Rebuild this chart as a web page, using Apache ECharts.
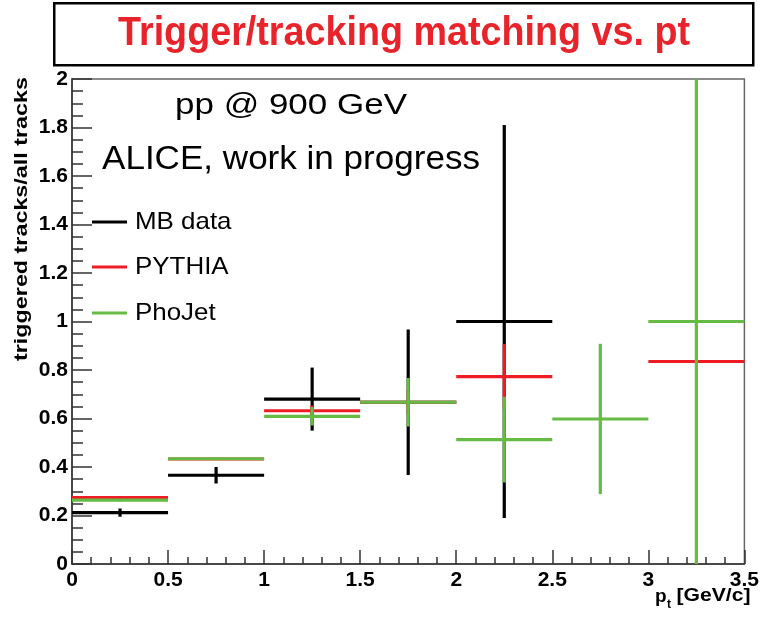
<!DOCTYPE html>
<html>
<head>
<meta charset="utf-8">
<script src="https://cdn.jsdelivr.net/npm/echarts@6/dist/echarts.min.js"></script>
<style>
html,body{margin:0;padding:0;background:#fff;}
#chart{width:762px;height:617px;}
</style>
</head>
<body>
<div id="chart"></div>
<script>
// ---- data ----
const binCenters   = [0.25, 0.75, 1.25, 1.75, 2.25, 2.75, 3.25];
const binHalfWidth = 0.25;
const mbValues     = [0.212, 0.366, 0.680, 0.667, 1.000, null, null];
const mbErrors     = [0.017, 0.034, 0.130, 0.300, 0.810, null, null];
const pythiaValues = [0.274, 0.433, 0.632, 0.667, 0.773, null, 0.835];
const pythiaErrors = [0.003, 0.004, 0.022, 0.050, 0.134, null, 0.000];
const phojetValues = [0.263, 0.434, 0.609, 0.667, 0.513, 0.598, 1.000];
const phojetErrors = [0.005, 0.006, 0.038, 0.100, 0.177, 0.310, 1.000];
const seriesNames  = ['MB data', 'PYTHIA', 'PhoJet'];
const titleText    = 'Trigger/tracking matching vs. pt';
const infoLines    = ['pp @ 900 GeV', 'ALICE, work in progress'];
const yAxisTitle   = 'triggered tracks/all tracks';

const COLORS = ['#000000', '#ee1c25', '#66bb44'];
const FONT = '"Liberation Sans", Arial, sans-serif';

const mctx = document.createElement('canvas').getContext('2d');
function fit(text, weight, size, target) {
  mctx.font = weight + ' ' + size + 'px ' + FONT;
  return target / mctx.measureText(text).width;
}

function buildData(vals, errs) {
  const out = [];
  for (let i = 0; i < binCenters.length; i++) {
    if (vals[i] == null) continue;
    out.push([binCenters[i], vals[i], errs[i], binHalfWidth]);
  }
  return out;
}

function makeRender(color) {
  return function (params, api) {
    const x = api.value(0), y = api.value(1), e = api.value(2), hw = api.value(3);
    const cs = params.coordSys;
    const l = api.coord([x - hw, y]);
    const r = api.coord([x + hw, y]);
    const t = api.coord([x, y + e]);
    const b = api.coord([x, y - e]);
    const top = Math.max(t[1], cs.y);
    const bot = Math.min(b[1], cs.y + cs.height);
    const style = { stroke: color, lineWidth: 3.2 };
    const children = [
      { type: 'line', shape: { x1: l[0], y1: l[1], x2: r[0], y2: r[1] }, style: style }
    ];
    if (e > 0) {
      children.push({ type: 'line', shape: { x1: t[0], y1: top, x2: b[0], y2: bot }, style: style });
    }
    return { type: 'group', children: children };
  };
}

const allData = [
  buildData(mbValues, mbErrors),
  buildData(pythiaValues, pythiaErrors),
  buildData(phojetValues, phojetErrors)
];

const series = allData.map((d, i) => ({
  type: 'custom',
  name: seriesNames[i],
  data: d,
  encode: { x: 0, y: 1 },
  renderItem: makeRender(COLORS[i]),
  z: 2 + i,
  silent: true
}));

// graphic annotations
const graphics = [];
graphics.push({
  type: 'rect', left: 53, top: 2, shape: { x: 0, y: 0, width: 699, height: 62 },
  style: { fill: '#fff', stroke: '#000', lineWidth: 2.5 }, z: 10
});
graphics.push({
  type: 'text', x: 404, y: 34, z: 11,
  scaleX: fit(titleText, 'bold', 41, 572),
  style: { text: titleText, fill: '#e8232a', font: 'bold 41px ' + FONT, align: 'center', verticalAlign: 'middle' }
});
graphics.push({
  type: 'text', x: 291, y: 106, z: 11,
  scaleX: fit(infoLines[0], 'normal', 30, 232),
  style: { text: infoLines[0], fill: '#000', font: '30px ' + FONT, align: 'center', verticalAlign: 'middle' }
});
graphics.push({
  type: 'text', x: 291, y: 160, z: 11,
  scaleX: fit(infoLines[1], 'normal', 34, 378),
  style: { text: infoLines[1], fill: '#000', font: '34px ' + FONT, align: 'center', verticalAlign: 'middle' }
});
const legendY = [222, 267, 313];
seriesNames.forEach((n, i) => {
  graphics.push({
    type: 'line', z: 11,
    shape: { x1: 92, y1: legendY[i], x2: 127, y2: legendY[i] },
    style: { stroke: COLORS[i], lineWidth: 3.2 }
  });
  graphics.push({
    type: 'text', x: 135, y: legendY[i], z: 11,
    scaleX: 1.08,
    style: { text: n, fill: '#000', font: '24px ' + FONT, align: 'left', verticalAlign: 'middle' }
  });
});
graphics.push({
  type: 'text', x: 22, y: 219, z: 11, rotation: Math.PI / 2,
  scaleX: fit(yAxisTitle, 'bold', 18, 284),
  style: { text: yAxisTitle, fill: '#000', font: 'bold 18px ' + FONT, align: 'center', verticalAlign: 'middle' }
});
// x-axis title p_t [GeV/c]
graphics.push({
  type: 'text', x: 655, y: 597, z: 11,
  style: { text: 'p', fill: '#000', font: 'bold 19px ' + FONT, align: 'left', verticalAlign: 'middle' }
});
graphics.push({
  type: 'text', x: 667, y: 605, z: 11,
  style: { text: 't', fill: '#000', font: 'bold 12px ' + FONT, align: 'left', verticalAlign: 'middle' }
});
graphics.push({
  type: 'text', x: 676.5, y: 596, z: 11,
  scaleX: fit('[GeV/c]', 'bold', 19, 74),
  style: { text: '[GeV/c]', fill: '#000', font: 'bold 19px ' + FONT, align: 'left', verticalAlign: 'middle' }
});

const axisCommon = {
  axisLine: { show: true, lineStyle: { color: '#333', width: 1.5 } },
  splitLine: { show: false },
  axisLabel: { color: '#000', fontFamily: FONT, fontWeight: 'bold', fontSize: 21 }
};

const option = {
  animation: false,
  backgroundColor: '#fff',
  grid: { left: 72, right: 15, top: 79, bottom: 53, show: true, borderColor: '#666', borderWidth: 1.5, backgroundColor: 'transparent' },
  xAxis: Object.assign({}, axisCommon, {
    type: 'value', min: 0, max: 3.5, interval: 0.5,
    axisTick: { show: true, inside: true, length: 14, lineStyle: { color: '#333', width: 1.5 } },
    minorTick: { show: true, splitNumber: 5, length: 7, lineStyle: { color: '#333', width: 1.5 } },
    axisLabel: Object.assign({}, axisCommon.axisLabel, { margin: 6 })
  }),
  yAxis: Object.assign({}, axisCommon, {
    type: 'value', min: 0, max: 2, interval: 0.2,
    axisTick: { show: true, inside: true, length: 20, lineStyle: { color: '#333', width: 1.5 } },
    minorTick: { show: true, splitNumber: 4, length: 11, lineStyle: { color: '#333', width: 1.5 } },
    axisLabel: Object.assign({}, axisCommon.axisLabel, { margin: 4 })
  }),
  series: series,
  graphic: graphics
};

const chart = echarts.init(document.getElementById('chart'), null, { renderer: 'canvas' });
chart.setOption(option);
</script>
</body>
</html>
